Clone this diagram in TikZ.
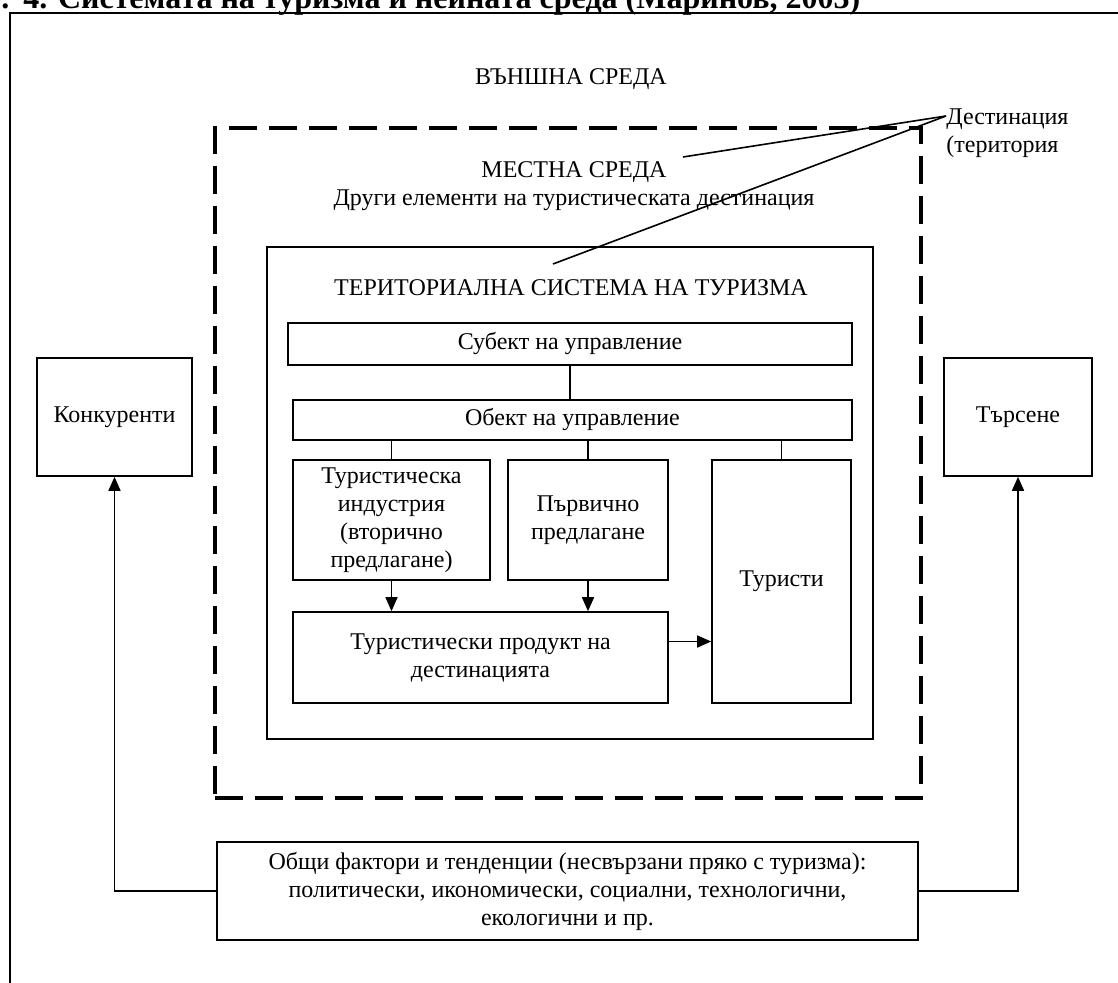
\documentclass[tikz,border=0pt]{standalone}
\usepackage{fontspec}
\setmainfont{Liberation Serif}
\usetikzlibrary{arrows.meta,positioning}

\begin{document}
\begin{tikzpicture}[
    x=0.5pt, y=-0.5pt,
    font=\fontsize{12}{14}\selectfont,
    block/.style={rectangle, draw, line width=0.8pt, inner sep=2pt, align=center},
    dashbox/.style={rectangle, draw, line width=2pt, dash pattern=on 14pt off 6pt},
    link/.style={line width=0.8pt},
    arrow/.style={line width=0.8pt,->,>={Triangle[width=6pt,length=7pt]}}
]
\useasboundingbox (0,0) rectangle (1118,983);
\clip (0,0) rectangle (1118,983);

% Frame and title
\draw [line width=1.1pt] (10,990) -- (10,13) -- (1130,13);
\node [anchor=base west, inner sep=0, font=\fontsize{16}{18}\selectfont\bfseries] (title) at (1,9) {.\hspace{7pt}4. Системата на туризма и нейната среда (Маринов, 2003)};
\node (outer) at (571,79) {ВЪНШНА СРЕДА};

% Define nodes from outside to inside
\node [dashbox, minimum width=353pt, minimum height=335pt] (local) at (568,463) {};
\node [align=center] (localtxt) at (574,186) {МЕСТНА СРЕДА\\Други елементи на туристическата дестинация};
\node [block, minimum width=303pt, minimum height=246pt] (tst) at (570,493) {};
\node (tsttxt) at (571,288) {ТЕРИТОРИАЛНА СИСТЕМА НА ТУРИЗМА};

\node [block, minimum width=282pt, minimum height=21pt] (subject) at (570,344) {Субект на управление};
\node [block, minimum width=279.5pt, minimum height=20pt] (object) at (572.5,420) {Обект на управление};
\node [block, minimum width=98.5pt, minimum height=60pt] (industry) at (391.5,520) {Туристическа\\индустрия\\(вторично\\предлагане)};
\node [block, minimum width=80pt, minimum height=60pt] (primary) at (588,520) {Първично\\предлагане};
\node [block, minimum width=69.5pt, minimum height=121.5pt] (tourists) at (781.5,581.5) {Туристи};
\node [block, minimum width=187.5pt, minimum height=45.5pt] (product) at (480.5,657.5) {Туристически продукт на\\дестинацията};

\node [block, minimum width=77.5pt, minimum height=59pt] (rivals) at (114.5,417) {Конкуренти};
\node [block, minimum width=74pt, minimum height=59pt] (demand) at (1018,417) {Търсене};
\node [block, minimum width=350.5pt, minimum height=49pt] (factors) at (567.5,891) {Общи фактори и тенденции (несвързани пряко с туризма):\\политически, икономически, социални, технологични,\\екологични и пр.};

\node [anchor=north west, inner sep=0, align=left] (dest) at (946,108) {Дестинация\\(територия};
\coordinate (localend) at (683,157);
\coordinate (tstend) at (553,264);

% Draw links and arrows
\draw [link] (subject.south) -- (subject.south |- object.north);
\draw [link] (industry.north |- object.south) -- (industry.north);
\draw [link] (primary.north |- object.south) -- (primary.north);
\draw [link] (tourists.north |- object.south) -- (tourists.north);
\draw [arrow] (industry.south) -- (industry.south |- product.north);
\draw [arrow] (primary.south) -- (primary.south |- product.north);
\draw [arrow] ([yshift=8pt]product.east) -- ([yshift=8pt]product.east -| tourists.west);
\draw [arrow] (factors.west) -| (rivals.south);
\draw [arrow] (factors.east) -| (demand.south);

% Pointer lines of the destination
\draw [link] ([yshift=-4pt]dest.north west) -- (localend);
\draw [link] ([yshift=-4pt]dest.north west) -- (tstend);

\end{tikzpicture}
\end{document}
